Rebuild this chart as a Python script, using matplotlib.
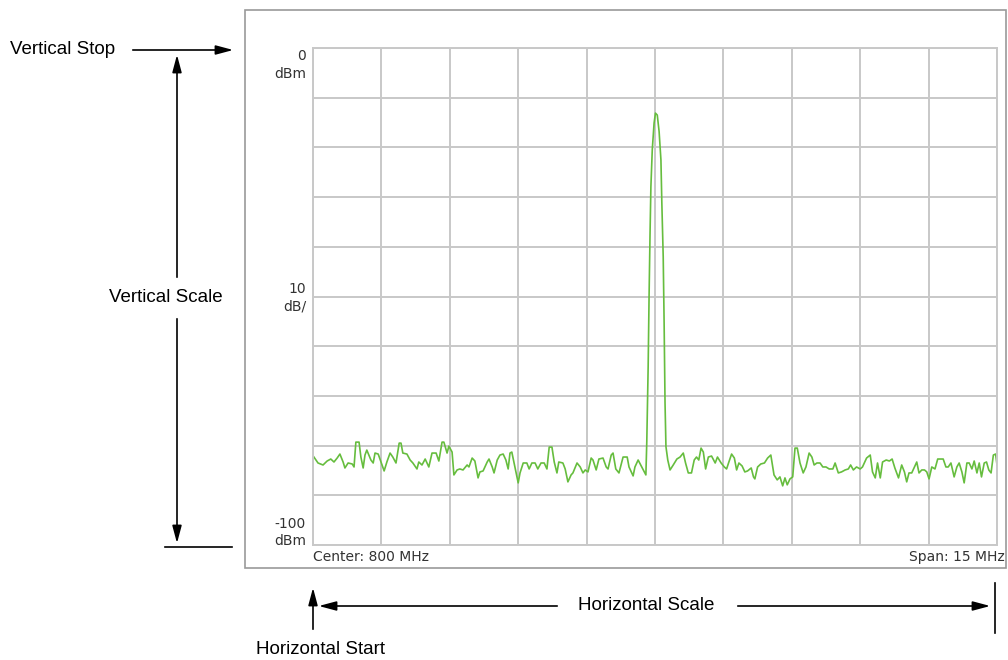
import matplotlib.pyplot as plt
from matplotlib.patches import Rectangle

# spectrum trace (MHz, dBm)
freq = [
    792.52, 792.61, 792.72, 792.81, 792.89, 792.96, 793.03, 793.09, 793.16, 793.20,
    793.27, 793.36, 793.40, 793.44, 793.51, 793.55, 793.60, 793.64, 793.68, 793.77,
    793.82, 793.86, 793.93, 793.99, 794.06, 794.12, 794.19, 794.25, 794.32, 794.39,
    794.43, 794.47, 794.56, 794.63, 794.69, 794.78, 794.82, 794.89, 794.96, 795.02,
    795.04, 795.11, 795.20, 795.26, 795.33, 795.37, 795.44, 795.48, 795.55, 795.59,
    795.66, 795.72, 795.79, 795.88, 795.92, 795.99, 796.05, 796.12, 796.16, 796.23,
    796.32, 796.36, 796.43, 796.47, 796.54, 796.60, 796.67, 796.73, 796.78, 796.82,
    796.86, 796.91, 797.00, 797.04, 797.11, 797.19, 797.24, 797.30, 797.37, 797.43,
    797.50, 797.57, 797.63, 797.68, 797.74, 797.79, 797.85, 797.89, 797.98, 798.03,
    798.09, 798.16, 798.20, 798.29, 798.36, 798.42, 798.47, 798.53, 798.60, 798.64,
    798.71, 798.77, 798.86, 798.93, 798.97, 799.04, 799.08, 799.14, 799.21, 799.30,
    799.39, 799.43, 799.52, 799.56, 799.63, 799.71, 799.80,
    799.82, 799.85, 799.87, 799.89, 799.91, 799.94, 799.98, 800.01, 800.05, 800.09,
    800.13, 800.15, 800.18, 800.20, 800.22, 800.24,
    800.28, 800.33, 800.40, 800.48, 800.55, 800.62, 800.67, 800.73, 800.80, 800.86,
    800.91, 800.96, 801.01, 801.06, 801.11, 801.17, 801.24, 801.32, 801.37, 801.45,
    801.52, 801.57, 801.62, 801.68, 801.74, 801.79, 801.84, 801.91, 801.97, 802.03,
    802.11, 802.16, 802.19, 802.25, 802.32, 802.40, 802.47, 802.54,
    802.61, 802.68, 802.74, 802.80, 802.85, 802.90, 802.96, 803.02, 803.07, 803.12,
    803.18, 803.25, 803.31, 803.38, 803.44, 803.49, 803.55, 803.62, 803.68, 803.75,
    803.82, 803.90, 803.95, 804.02, 804.09, 804.17, 804.24, 804.29, 804.35, 804.42,
    804.50, 804.55, 804.64, 804.72, 804.77, 804.83, 804.88, 804.94, 804.99, 805.07,
    805.14,
    805.20, 805.26, 805.34, 805.41, 805.47, 805.52, 805.57, 805.63, 805.69, 805.74,
    805.79, 805.85, 805.91, 805.96, 806.01, 806.07, 806.14, 806.20, 806.25, 806.32,
    806.38, 806.43, 806.49, 806.56, 806.62, 806.67, 806.73, 806.78, 806.84, 806.89,
    806.95, 807.00, 807.06, 807.11, 807.16, 807.22, 807.27, 807.32, 807.37, 807.42,
    807.47, 807.50,
]
level = [
    -82.3, -83.5, -83.9, -83.1, -82.7, -83.3, -82.5, -81.7, -83.3, -84.5,
    -83.5, -83.7, -84.3, -79.3, -79.3, -82.3, -84.5, -81.9, -80.9, -82.9,
    -83.5, -81.5, -81.7, -83.3, -85.1, -83.3, -81.5, -82.3, -83.5, -79.5,
    -79.5, -81.5, -81.7, -82.9, -83.5, -84.7, -83.3, -83.9, -82.7, -83.9,
    -84.3, -81.5, -81.5, -83.1, -79.3, -79.3, -81.5, -80.1, -81.3, -85.9,
    -84.9, -84.7, -84.9, -83.9, -84.3, -82.5, -83.1, -86.5, -85.3, -85.1,
    -83.3, -82.7, -84.3, -85.5, -82.9, -81.9, -81.7, -82.9, -84.7, -81.5,
    -81.3, -83.5, -87.5, -85.5, -83.5, -83.5, -84.7, -83.5, -83.5, -84.7,
    -83.5, -83.5, -84.7, -80.3, -80.3, -83.3, -85.5, -83.3, -83.5, -84.7,
    -87.3, -85.9, -85.5, -83.5, -84.3, -85.5, -84.9, -85.3, -82.5, -82.9,
    -84.9, -82.7, -82.5, -84.3, -84.7, -81.9, -81.5, -84.7, -85.5, -82.3,
    -82.3, -84.3, -86.1, -84.3, -82.9, -84.3, -85.9,
    -79.2, -64.1, -50.0, -38.0, -27.9, -20.5, -15.1, -13.1, -13.5, -16.8,
    -22.5, -31.2, -42.0, -55.3, -71.4, -80.2,
    -82.9, -84.9, -83.9, -82.7, -82.3, -81.5, -83.5, -85.5, -85.5, -82.9,
    -82.3, -82.9, -80.5, -81.3, -84.7, -82.3, -82.1, -83.5, -82.3, -83.5,
    -84.3, -84.7, -83.3, -81.7, -82.5, -84.9, -83.5, -84.1, -85.3, -85.1,
    -84.5, -86.3, -86.7, -84.3, -83.7, -83.5, -82.5, -81.9,
    -85.9, -86.9, -86.3, -88.1, -86.5, -87.9, -86.7, -86.3, -80.5, -80.5,
    -83.5, -85.5, -84.3, -81.5, -82.3, -83.9, -83.5, -83.5, -84.3, -84.3,
    -84.7, -84.7, -83.5, -85.5, -85.3, -84.9, -84.7, -83.9, -84.9, -84.3,
    -84.7, -84.3, -82.5, -81.9, -85.3, -86.5, -83.5, -86.5, -83.3, -82.9,
    -83.1,
    -82.7, -84.5, -86.5, -83.9, -85.3, -87.3, -85.5, -85.5, -84.3, -83.3,
    -85.5, -84.9, -84.9, -85.3, -86.7, -84.3, -84.7, -82.7, -82.7, -82.7,
    -84.3, -84.3, -83.5, -86.3, -84.3, -83.5, -85.3, -87.5, -83.5, -83.5,
    -84.7, -83.1, -85.5, -83.5, -86.3, -83.5, -83.3, -84.9, -85.5, -81.9,
    -81.7, -83.9,
]

center = 800.0
span = 15.0
ref_level = 0
scale_db = 10

W, H = 1008, 660
fig = plt.figure(figsize=(W / 100, H / 100), dpi=100)

# screen area
ax = fig.add_axes([313 / W, 1 - 545 / H, 684 / W, 497 / H])
ax.plot(freq, level, color='#66bd3e', lw=1.2)
ax.set_xlim(center - span / 2, center + span / 2)
ax.set_ylim(ref_level - 10 * scale_db, ref_level)
ax.set_xticks([center - span / 2 + i * span / 10 for i in range(11)])
ax.set_yticks([ref_level - i * scale_db for i in range(11)])
ax.tick_params(length=0, labelbottom=False, labelleft=False)
ax.grid(True, color='#c8c8c8', lw=1.4)
for s in ax.spines.values():
    s.set_color('#c8c8c8')
    s.set_linewidth(1.4)

# overlay in pixel coords for the callouts
ov = fig.add_axes([0, 0, 1, 1], zorder=-1)
ov.set_xlim(0, W)
ov.set_ylim(H, 0)
ov.axis('off')
ov.add_patch(Rectangle((245, 10), 761, 558, fill=False, ec='#9a9a9a', lw=1.2))

scr = dict(fontsize=10, color='#333333', family='DejaVu Sans')
ov.text(306, 56, '0', ha='right', va='center', **scr)
ov.text(306, 74, 'dBm', ha='right', va='center', **scr)
ov.text(306, 289, '10', ha='right', va='center', **scr)
ov.text(306, 306, 'dB/', ha='right', va='center', **scr)
ov.text(306, 524, '-100', ha='right', va='center', **scr)
ov.text(306, 541, 'dBm', ha='right', va='center', **scr)
ov.text(313, 557, 'Center: %d MHz' % center, ha='left', va='center', **scr)
ov.text(1005, 557, 'Span: %d MHz' % span, ha='right', va='center', **scr)

lab = dict(fontsize=13.5, color='black', family='Liberation Sans')
arr = dict(arrowstyle='-|>,head_length=0.75,head_width=0.2', color='black',
           lw=1.2, mutation_scale=14)

ov.text(10, 50, 'Vertical Stop', ha='left', va='center', **lab)
ov.annotate('', xy=(236, 50), xytext=(130, 50), arrowprops=arr)

ov.text(166, 297, 'Vertical Scale', ha='center', va='center', **lab)
ov.annotate('', xy=(177, 52), xytext=(177, 280), arrowprops=arr)
ov.annotate('', xy=(177, 546), xytext=(177, 316), arrowprops=arr)
ov.plot([165, 232], [547, 547], color='black', lw=1.2)

ov.text(646, 606, 'Horizontal Scale', ha='center', va='center', **lab)
ov.annotate('', xy=(316, 606), xytext=(560, 606), arrowprops=arr)
ov.annotate('', xy=(993, 606), xytext=(735, 606), arrowprops=arr)
ov.plot([995, 995], [583, 633], color='black', lw=1.2)

ov.annotate('', xy=(313, 585), xytext=(313, 632), arrowprops=arr)
ov.text(320, 650, 'Horizontal Start', ha='center', va='center', **lab)

fig.savefig('out.png', dpi=100, facecolor='white')
